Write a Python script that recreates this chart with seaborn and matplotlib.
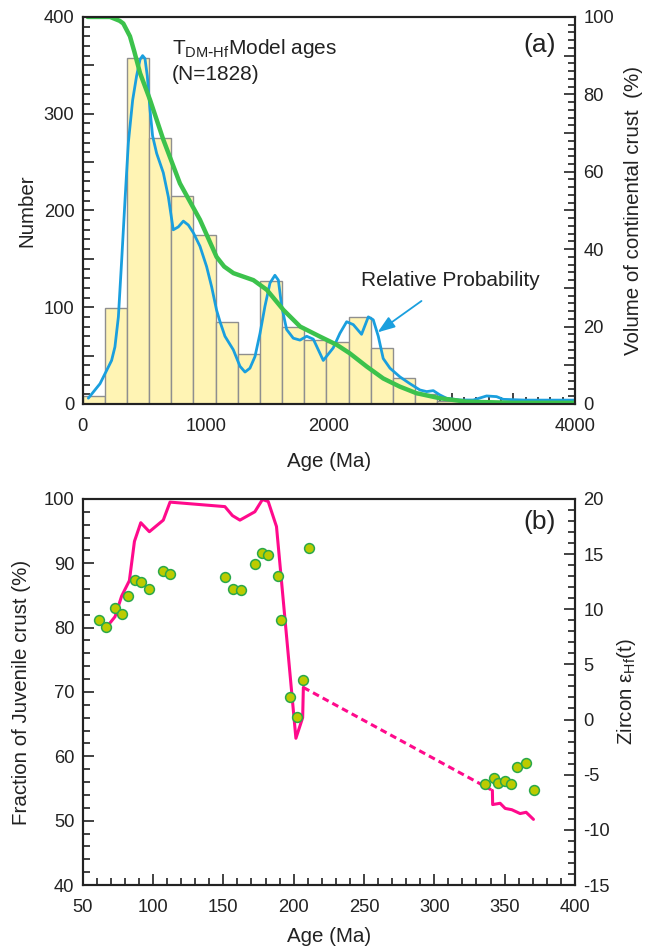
import numpy as np
import pandas as pd
import matplotlib
matplotlib.use("Agg")
import matplotlib.pyplot as plt
from matplotlib.ticker import MultipleLocator, FuncFormatter
import seaborn as sns

# ---------------- data: panel (a) ----------------
bin_edges = [0, 180, 360, 540, 720, 900, 1080, 1260, 1440, 1620, 1800, 1980,
             2160, 2340, 2520, 2700, 2880, 3060]
bin_counts = [8, 99, 358, 275, 215, 175, 85, 52, 127, 80, 66, 64, 90, 58, 27, 10, 3]

prob_age = [46, 141, 235, 262, 290, 317, 344, 371, 406, 438, 466, 487, 506, 525,
            547, 568, 601, 655, 696, 736, 777, 818, 858, 899, 953, 1007, 1048,
            1088, 1116, 1156, 1224, 1278, 1319, 1359, 1400, 1441, 1481, 1522,
            1562, 1590, 1617, 1657, 1711, 1766, 1820, 1874, 1955, 2036, 2090,
            2145, 2199, 2266, 2321, 2361, 2402, 2442, 2497, 2578, 2659, 2740,
            2795, 2849, 2903, 2957, 3065, 3174, 3282, 3363, 3418, 3600, 4000]
prob_val = [6, 21, 45, 59, 90, 149, 211, 270, 314, 339, 356, 360, 357, 339,
            304, 277, 259, 239, 214, 180, 183, 189, 185, 177, 163, 142, 121,
            97, 85, 70, 56, 39, 33, 37, 49, 73, 101, 125, 133, 128, 101, 77,
            68, 66, 70, 67, 45, 58, 73, 85, 82, 72, 90, 87, 70, 47, 37, 28,
            21, 14.5, 12.8, 13.8, 9.3, 5.9, 4.1, 4.1, 8.3, 7.6, 4.8, 4.0, 4.0]

crust_age = [40, 222, 300, 330, 384, 420, 466, 547, 655, 790, 953, 1088, 1150,
             1225, 1387, 1496, 1631, 1767, 1873, 1929, 2000, 2064, 2170, 2307,
             2442, 2576, 2711, 2900, 3116, 3500, 4000]
crust_pct = [100, 100, 99, 98.3, 95, 91, 85.5, 78.6, 68.3, 57, 47.6, 38, 35.5,
             33.8, 32, 29.5, 24.3, 20, 18.3, 17.4, 16.3, 15.3, 13.1, 9.7, 6.6,
             4.5, 2.8, 1.5, 0.6, 0.3, 0.3]

# ---------------- data: panel (b) ----------------
juv_age_1 = [66.4, 73, 77.7, 83.2, 86.8, 91.3, 97.4, 107.3, 112.1, 151.1, 156.5,
             161.8, 172.4, 177.8, 181.9, 187.8, 201.6, 206.4, 206.9]
juv_pct_1 = [79.9, 81.7, 84.9, 87.3, 93.4, 96.3, 94.9, 96.7, 99.5, 98.8, 97.4,
             96.7, 98.0, 99.9, 99.6, 95.7, 62.8, 66.0, 70.7]
juv_age_gap = [206.9, 340.4]
juv_pct_gap = [70.7, 54.8]
juv_age_2 = [341.3, 341.5, 346.8, 350.4, 355.1, 361.0, 365.3, 370.5]
juv_pct_2 = [54.7, 52.5, 52.7, 51.9, 51.7, 51.1, 51.3, 50.2]

zr_age = [61.6, 66.3, 73, 77.7, 82.2, 87, 91.7, 97.4, 107.3, 112.1, 151, 156.7,
          162.4, 172.8, 177.5, 182, 188.7, 191, 197.7, 202.4, 206.9, 211,
          336.1, 342.1, 345.6, 350.1, 354.6, 359.1, 365.1, 370.8]
zr_eps = [9.02, 8.35, 10.08, 9.56, 11.17, 12.62, 12.50, 11.83, 13.44, 13.16,
          12.89, 11.83, 11.71, 14.10, 15.07, 14.89, 13.01, 9.02, 2.06, 0.21,
          3.58, 15.52, -5.83, -5.26, -5.71, -5.56, -5.83, -4.32, -3.96, -6.38]

# ---------------- style ----------------
sns.set_theme(style="ticks")
plt.rcParams["font.family"] = ["Liberation Sans", "DejaVu Sans"]
plt.rcParams["mathtext.default"] = "regular"
plt.rcParams["axes.linewidth"] = 1.5
plt.rcParams["axes.edgecolor"] = "#222222"
plt.rcParams["axes.unicode_minus"] = False

BLUE = "#1a9fde"
GREEN = "#3cc24c"
PINK = "#ff0a8c"
TICK_FS = 13.2
LABEL_FS = 14.8
ANN_FS = 15
TXT = "#222222"

fig = plt.figure(figsize=(6.46, 9.51), dpi=100)
ax1 = fig.add_axes([0.128, 0.5752, 0.762, 0.407])
ax2 = fig.add_axes([0.128, 0.0694, 0.762, 0.406])


def style_ticks(ax, side):
    ax.tick_params(axis="both", which="both", direction="in", colors=TXT,
                   labelsize=TICK_FS, width=1.2, pad=6)
    ax.tick_params(axis="x", which="both", pad=10)
    ax.tick_params(axis="both", which="major", length=8)
    ax.tick_params(axis="both", which="minor", length=5)
    ax.tick_params(axis="x", top=False, bottom=True)
    if side == "left":
        ax.tick_params(axis="y", left=True, right=False, labelleft=True, labelright=False)
    else:
        ax.tick_params(axis="y", left=False, right=True, labelleft=False, labelright=True)


# ---------------- panel (a) ----------------
sns.histplot(x=bin_edges[:-1], weights=bin_counts, bins=bin_edges, ax=ax1,
             color="#fff4b4", edgecolor="#8f8f8f", linewidth=1.0, alpha=1.0)
sns.lineplot(x=prob_age, y=prob_val, ax=ax1, color=BLUE, linewidth=2.0,
             sort=False, estimator=None)
ax1.set_xlim(0, 4000)
ax1.set_ylim(0, 400)
ax1.xaxis.set_major_locator(MultipleLocator(500))
ax1.xaxis.set_minor_locator(MultipleLocator(100))
ax1.xaxis.set_major_formatter(FuncFormatter(lambda v, p: f"{int(v)}" if v % 1000 == 0 else ""))
ax1.yaxis.set_major_locator(MultipleLocator(50))
ax1.yaxis.set_minor_locator(MultipleLocator(10))
ax1.yaxis.set_major_formatter(FuncFormatter(lambda v, p: f"{int(v)}" if v % 100 == 0 else ""))
style_ticks(ax1, "left")
ax1.set_xlabel("Age (Ma)", fontsize=LABEL_FS, color=TXT, labelpad=12)
ax1.set_ylabel("Number", fontsize=LABEL_FS, color=TXT, labelpad=5)

ax1r = ax1.twinx()
sns.lineplot(x=crust_age, y=crust_pct, ax=ax1r, color=GREEN, linewidth=3.2,
             sort=False, estimator=None)
ax1r.set_ylim(0, 100)
ax1r.set_xlim(0, 4000)
ax1r.yaxis.set_major_locator(MultipleLocator(10))
ax1r.yaxis.set_minor_locator(MultipleLocator(2))
ax1r.yaxis.set_major_formatter(FuncFormatter(lambda v, p: f"{int(v)}" if v % 20 == 0 else ""))
style_ticks(ax1r, "right")
ax1r.set_ylabel("Volume of continental crust  (%)", fontsize=LABEL_FS, color=TXT, labelpad=7)

ax1.text(0.181, 0.918, r"T$_{DM\text{-}Hf}$Model ages", transform=ax1.transAxes,
         fontsize=ANN_FS, color=TXT, ha="left", va="center")
ax1.text(0.181, 0.852, "(N=1828)", transform=ax1.transAxes,
         fontsize=ANN_FS, color=TXT, ha="left", va="center")
ax1.text(0.929, 0.928, "(a)", transform=ax1.transAxes, fontsize=19,
         color=TXT, ha="center", va="center")
ax1.annotate("Relative Probability", xy=(2396, 74), xytext=(2990, 128),
             fontsize=ANN_FS, color=TXT, ha="center", va="center",
             arrowprops=dict(arrowstyle="-|>,head_length=0.7,head_width=0.25",
                             color=BLUE, lw=1.3, shrinkA=10, shrinkB=0))

# ---------------- panel (b) ----------------
sns.lineplot(x=juv_age_1, y=juv_pct_1, ax=ax2, color=PINK, linewidth=2.2,
             sort=False, estimator=None)
sns.lineplot(x=juv_age_gap, y=juv_pct_gap, ax=ax2, color=PINK, linewidth=2.2,
             sort=False, estimator=None, linestyle=(0, (2.2, 1.4)))
sns.lineplot(x=juv_age_2, y=juv_pct_2, ax=ax2, color=PINK, linewidth=2.2,
             sort=False, estimator=None)
ax2.set_xlim(50, 400)
ax2.set_ylim(40, 100)
ax2.xaxis.set_major_locator(MultipleLocator(50))
ax2.xaxis.set_minor_locator(MultipleLocator(10))
ax2.yaxis.set_major_locator(MultipleLocator(10))
ax2.yaxis.set_minor_locator(MultipleLocator(2))
style_ticks(ax2, "left")
ax2.set_xlabel("Age (Ma)", fontsize=LABEL_FS, color=TXT, labelpad=8)
ax2.set_ylabel("Fraction of Juvenile crust (%)", fontsize=LABEL_FS, color=TXT, labelpad=9)

ax2r = ax2.twinx()
sns.scatterplot(x=zr_age, y=zr_eps, ax=ax2r, s=50, color="#bccb00",
                edgecolor="#2aa84a", linewidth=1.1, zorder=5)
ax2r.set_ylim(-15, 20)
ax2r.set_xlim(50, 400)
ax2r.yaxis.set_major_locator(MultipleLocator(5))
ax2r.yaxis.set_minor_locator(MultipleLocator(1))
style_ticks(ax2r, "right")
ax2r.set_ylabel(r"Zircon ε$_{Hf}$(t)", fontsize=LABEL_FS, color=TXT, labelpad=4)
ax2.text(0.929, 0.939, "(b)", transform=ax2.transAxes, fontsize=19,
         color=TXT, ha="center", va="center")

for a in (ax1, ax1r, ax2, ax2r):
    for s in a.spines.values():
        s.set_visible(True)
        s.set_linewidth(1.5)

fig.savefig("out.png", dpi=100)
